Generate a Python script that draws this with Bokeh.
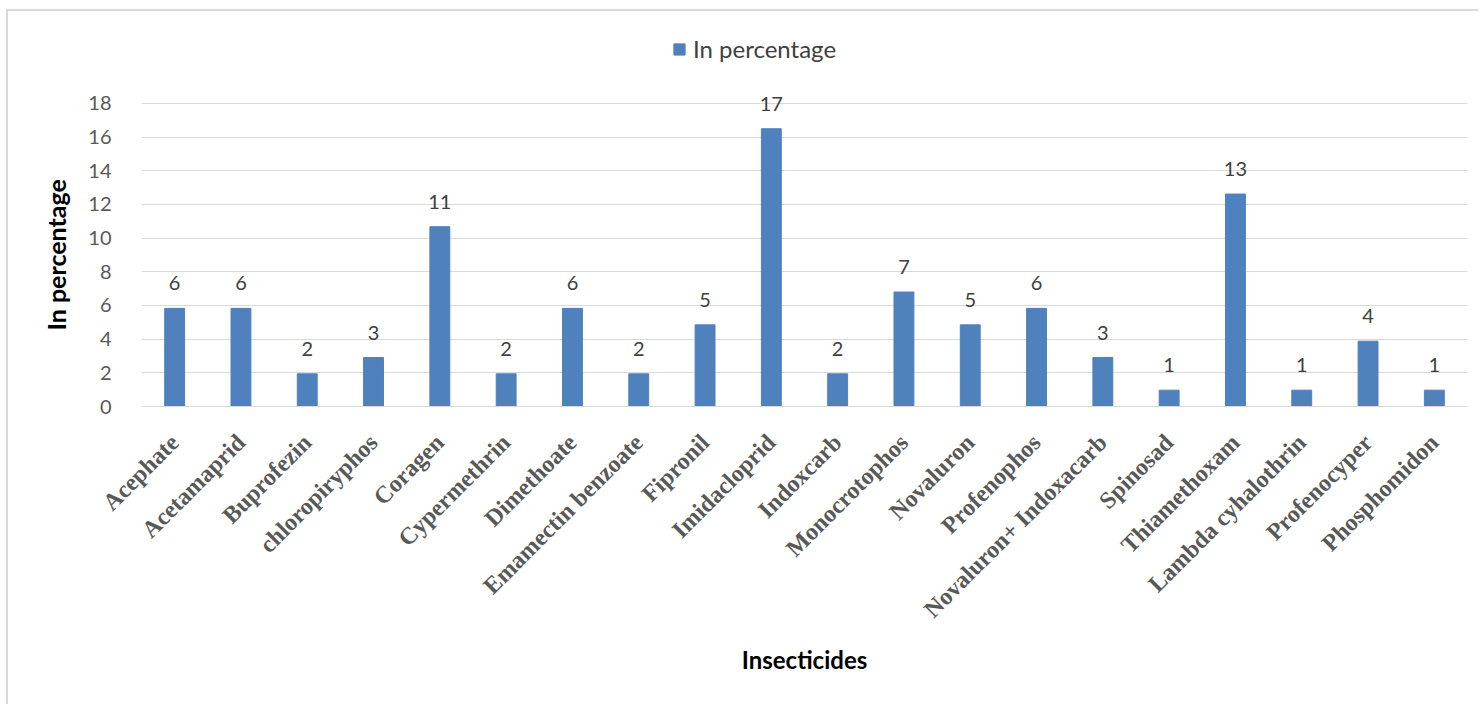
import math
from bokeh.plotting import figure
from bokeh.models import ColumnDataSource, Legend, LegendItem, FixedTicker, Title
from bokeh.core.properties import value
from bokeh.embed import file_html
from bokeh.resources import INLINE

categories = ["Acephate", "Acetamaprid", "Buprofezin", "chloropiryphos", "Coragen",
              "Cypermethrin", "Dimethoate", "Emamectin benzoate", "Fipronil", "Imidacloprid",
              "Indoxcarb", "Monocrotophos", "Novaluron", "Profenophos", "Novaluron+ Indoxacarb",
              "Spinosad", "Thiamethoxam", "Lambda cyhalothrin", "Profenocyper", "Phosphomidon"]
percentages = [5.83, 5.83, 1.94, 2.91, 10.68, 1.94, 5.83, 1.94, 4.85, 16.50,
               1.94, 6.80, 4.85, 5.83, 2.91, 0.97, 12.62, 0.97, 3.88, 0.97]
labels = ["6", "6", "2", "3", "11", "2", "6", "2", "5", "17",
          "2", "7", "5", "6", "3", "1", "13", "1", "4", "1"]
y_ticks = [0, 2, 4, 6, 8, 10, 12, 14, 16, 18]

src = ColumnDataSource(dict(cat=categories, val=percentages, lab=labels))

# frame spans page y 20..406; 0..18 occupies the lower 303 px
p = figure(x_range=categories, y_range=(0, 22.93), width=1472, height=695,
           output_backend="svg", toolbar_location=None,
           min_border_left=133, min_border_right=13, min_border_top=9, min_border_bottom=300)
p.margin = (9, 0, 0, 6)
p.styles = {"border-top": "2px solid #d9d9d9", "border-left": "2px solid #d9d9d9"}

r = p.vbar(x="cat", top="val", width=0.3, source=src, color="#4f81bd")
p.text(x="cat", y="val", text="lab", source=src, text_align="center", text_baseline="bottom",
       y_offset=-18, text_font=value("Lato"), text_font_size="20px", text_color="#404040")

p.outline_line_color = None
p.xgrid.grid_line_color = None
p.ygrid.grid_line_color = "#d9d9d9"
p.ygrid.grid_line_width = 1

p.yaxis.ticker = FixedTicker(ticks=y_ticks)
p.yaxis.axis_line_color = None
p.yaxis.major_tick_line_color = None
p.yaxis.minor_tick_line_color = None
p.yaxis.major_label_text_font = "Lato"
p.yaxis.major_label_text_font_size = "20px"
p.yaxis.major_label_text_color = "#595959"
p.yaxis.major_label_standoff = 24

ytitle = Title(text="In percentage", align="left", offset=76, standoff=29,
               text_font="Lato", text_font_style="bold", text_font_size="25px",
               text_color="#000000")
p.add_layout(ytitle, "left")

p.xaxis.axis_line_color = "#d9d9d9"
p.xaxis.major_tick_line_color = None
p.xaxis.minor_tick_line_color = None
p.xaxis.major_label_orientation = math.pi / 4
p.xaxis.major_label_text_font = "Liberation Serif"
p.xaxis.major_label_text_font_style = "bold"
p.xaxis.major_label_text_font_size = "24px"
p.xaxis.major_label_text_color = "#595959"
p.xaxis.major_label_standoff = 26
p.xaxis.axis_label = "Insecticides"
p.xaxis.axis_label_text_font = "Lato"
p.xaxis.axis_label_text_font_style = "bold"
p.xaxis.axis_label_text_font_size = "24px"
p.xaxis.axis_label_text_color = "#000000"
p.xaxis.axis_label_standoff = 10

legend = Legend(items=[LegendItem(label="In percentage", renderers=[r])],
                location=(531, 343), orientation="horizontal",
                label_text_font="Lato", label_text_font_size="24px", label_text_color="#404040",
                glyph_width=14, glyph_height=14, border_line_color=None,
                background_fill_alpha=0, padding=0, margin=0, label_standoff=7)
p.add_layout(legend, "center")

open("out.html", "w").write(file_html(p, INLINE))
